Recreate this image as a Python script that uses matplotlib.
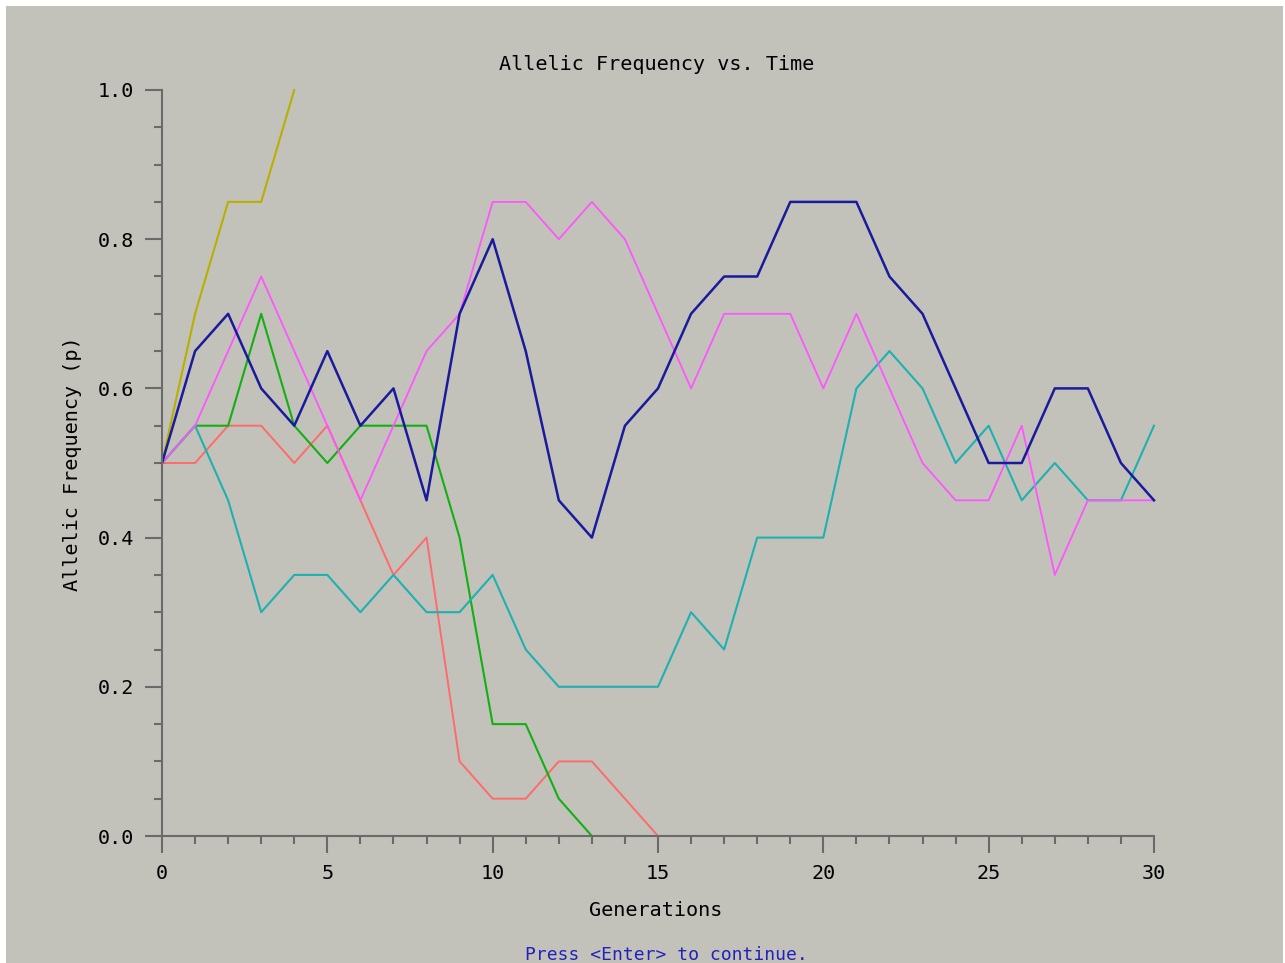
import matplotlib
matplotlib.use("Agg")
import matplotlib.pyplot as plt
from matplotlib.patches import Rectangle
from matplotlib.ticker import MultipleLocator

# allele frequency p per generation for each simulated population
yellow = [0.5, 0.7, 0.85, 0.85, 1.0]
blue = [0.5, 0.65, 0.7, 0.6, 0.55, 0.65, 0.55, 0.6, 0.45, 0.7, 0.8,
        0.65, 0.45, 0.4, 0.55, 0.6, 0.7, 0.75, 0.75, 0.85, 0.85,
        0.85, 0.75, 0.7, 0.6, 0.5, 0.5, 0.6, 0.6, 0.5, 0.45]
pink = [0.5, 0.55, 0.65, 0.75, 0.65, 0.55, 0.45, 0.55, 0.65, 0.7, 0.85,
        0.85, 0.8, 0.85, 0.8, 0.7, 0.6, 0.7, 0.7, 0.7, 0.6,
        0.7, 0.6, 0.5, 0.45, 0.45, 0.55, 0.35, 0.45, 0.45, 0.45]
cyan = [0.5, 0.55, 0.45, 0.3, 0.35, 0.35, 0.3, 0.35, 0.3, 0.3, 0.35,
        0.25, 0.2, 0.2, 0.2, 0.2, 0.3, 0.25, 0.4, 0.4, 0.4,
        0.6, 0.65, 0.6, 0.5, 0.55, 0.45, 0.5, 0.45, 0.45, 0.55]
green = [0.5, 0.55, 0.55, 0.7, 0.55, 0.5, 0.55, 0.55, 0.55, 0.4, 0.15,
         0.15, 0.05, 0.0]
red = [0.5, 0.5, 0.55, 0.55, 0.5, 0.55, 0.45, 0.35, 0.4, 0.1, 0.05,
       0.05, 0.1, 0.1, 0.05, 0.0]

series = [
    (red, "#ff6b6b", 1.4),
    (green, "#12b012", 1.5),
    (cyan, "#1fb0b0", 1.5),
    (pink, "#ff55ff", 1.3),
    (yellow, "#b8b000", 1.5),
    (blue, "#1a1a9c", 1.8),
]

bg = "#c2c2bb"
mono = "DejaVu Sans Mono"

fig = plt.figure(figsize=(12.85, 9.63), dpi=100, facecolor="white")
fig.patches.append(Rectangle((6 / 1285, 0), 1 - 8 / 1285, 1 - 6 / 963,
                             transform=fig.transFigure, facecolor=bg,
                             edgecolor="none", zorder=-10))

ax = fig.add_axes([162 / 1285, 127 / 963, 992 / 1285, 746 / 963])
ax.set_facecolor("none")

for values, color, lw in series:
    ax.plot(range(len(values)), values, color=color, lw=lw, clip_on=False)

ax.set_xlim(0, 30)
ax.set_ylim(0, 1.0)
ax.xaxis.set_major_locator(MultipleLocator(5))
ax.xaxis.set_minor_locator(MultipleLocator(1))
ax.yaxis.set_major_locator(MultipleLocator(0.2))
ax.yaxis.set_minor_locator(MultipleLocator(0.05))
ax.yaxis.set_major_formatter(lambda v, pos: f"{v:.1f}")

for side in ["top", "right"]:
    ax.spines[side].set_visible(False)
for side in ["left", "bottom"]:
    ax.spines[side].set_color("#6a6a6a")
    ax.spines[side].set_linewidth(1.5)

ax.tick_params(which="major", length=12, width=1.5, color="#6a6a6a",
               labelsize=14.5, pad=8)
ax.tick_params(which="minor", length=6, width=1.5, color="#6a6a6a")
for lab in ax.get_xticklabels() + ax.get_yticklabels():
    lab.set_family(mono)

fig.text(657 / 1285, 1 - 64 / 963, "Allelic Frequency vs. Time",
         ha="center", va="center", fontsize=14.5, family=mono)
fig.text(656 / 1285, 1 - 910 / 963, "Generations",
         ha="center", va="center", fontsize=14.5, family=mono)
fig.text(72 / 1285, 1 - 464 / 963, "Allelic Frequency (p)",
         ha="center", va="center", rotation=90, fontsize=14.5, family=mono)
fig.text(666 / 1285, 1 - 946 / 963, "Press <Enter> to continue.",
         ha="center", va="top", fontsize=13, family=mono, color="#2222bb")

fig.savefig("out.png", dpi=100, facecolor="white")
